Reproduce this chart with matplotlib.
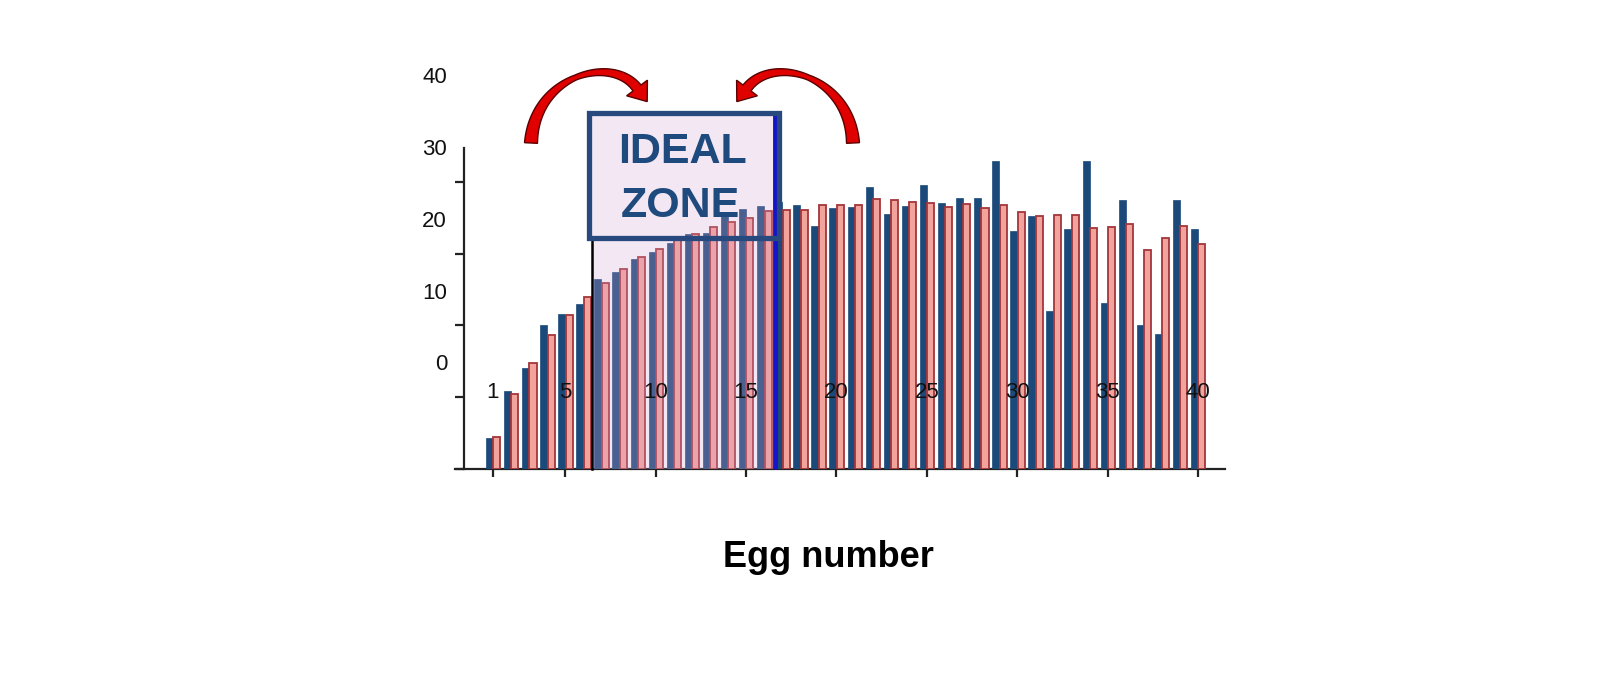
import matplotlib
matplotlib.use("Agg")
import matplotlib.pyplot as plt
from matplotlib.patches import Rectangle, Polygon
import numpy as np

plt.rcParams['font.family'] = ['Liberation Sans', 'DejaVu Sans']

eggs = list(range(1, 41))
series_a = [4.3, 10.8, 14.0, 20.0, 21.6, 23.0, 26.5, 27.4, 29.2, 30.2,
            31.5, 32.7, 32.9, 35.5, 36.2, 36.6, 37.2, 36.7, 33.9, 36.4,
            36.5, 39.2, 35.5, 36.6, 39.6, 37.0, 37.8, 37.8, 42.9, 33.1,
            35.2, 22.0, 33.4, 42.9, 23.1, 37.5, 20.0, 18.8, 37.5, 33.4]
series_b = [4.45, 10.45, 14.8, 18.7, 21.4, 23.9, 25.9, 27.8, 29.5, 30.6,
            31.9, 32.7, 33.7, 34.4, 35.0, 35.9, 36.1, 36.1, 36.7, 36.8,
            36.7, 37.6, 37.5, 37.2, 37.1, 36.5, 36.9, 36.3, 36.7, 35.8,
            35.2, 35.4, 35.4, 33.5, 33.7, 34.1, 30.5, 32.2, 33.8, 31.3]
x_ticks = [1, 5, 10, 15, 20, 25, 30, 35, 40]
y_ticks = [0, 10, 20, 30, 40]
y_tick_labels = ["0", "10", "20", "30", "40"]
x_label = "Egg number"
zone_lines = ["IDEAL", "ZONE"]

W, H = 1600, 695
fig = plt.figure(figsize=(16, 6.95), dpi=100)
fig.patch.set_facecolor('white')

def px(x, y):
    return (x / W, 1 - y / H)

ax = fig.add_axes([455 / W, (H - 469) / H, (1225 - 455) / W, (469 - 148) / H])
ax.set_xlim(-1.10, 41.49)
ax.set_ylim(0, 44.7)
ax.set_facecolor('none')

xs = np.array(eggs, dtype=float)
bw = 0.39
ax.bar(xs - bw / 2, series_a, width=bw, color='#1B4A7A', edgecolor='#1B4A7A',
       linewidth=0.5, zorder=3)
ax.bar(xs + bw / 2 + 0.02, series_b, width=bw, color='#F2A39C', edgecolor='#A3363A',
       linewidth=1.3, zorder=3)

for s in ['top', 'right']:
    ax.spines[s].set_visible(False)
ax.spines['left'].set_position(('data', -0.60))
for s in ['left', 'bottom']:
    ax.spines[s].set_color('#222222')
    ax.spines[s].set_linewidth(1.6)
ax.set_xticks(x_ticks)
ax.set_xticklabels([])
ax.set_yticks(y_ticks)
ax.set_yticklabels([])
ax.tick_params(axis='x', direction='out', length=6, width=1.6, color='#222222')
ax.tick_params(axis='y', direction='out', length=6.5, width=1.6, color='#222222')

for v, lab in zip(y_ticks, y_tick_labels):
    ax.text(-1.54, v + 14.5, lab, ha='right', va='center', fontsize=16,
            color='#111111', clip_on=False, zorder=6)
for v in x_ticks:
    ax.text(v, 10.7, str(v), ha='center', va='center', fontsize=16,
            color='#111111', clip_on=False, zorder=6)

# ideal zone
zone_l, zone_r = 6.48, 16.71
box_l, box_r = 6.20, 16.93
box_b, box_t = 31.9, 49.9
overlay = (215 / 255, 163 / 255, 215 / 255)
ax.add_patch(Rectangle((zone_l, 0), zone_r - zone_l, box_b, facecolor=overlay,
                       alpha=0.25, edgecolor='none', zorder=4, clip_on=False))
ax.add_patch(Rectangle((box_l, box_b), box_r - box_l, box_t - box_b, facecolor=overlay,
                       alpha=0.25, edgecolor='none', zorder=4, clip_on=False))
ax.plot([zone_l, zone_l], [0, box_b], color='black', lw=1.8, zorder=5, clip_on=False)
ax.plot([16.6, 16.6], [0, box_t - 0.5], color='#1414C8', lw=3.5, zorder=5,
        clip_on=False, solid_capstyle='butt')
ax.add_patch(Rectangle((box_l + 0.13, box_b + 0.3), box_r - box_l - 0.26, box_t - box_b - 0.6,
                       facecolor='none', edgecolor='#27497E', linewidth=3.8, zorder=6,
                       clip_on=False))
fig.text(*px(682.5, 163), zone_lines[0], ha='center', va='baseline', fontsize=31,
         fontweight='bold', color='#1F4A7E', zorder=7)
fig.text(*px(680, 217), zone_lines[1], ha='center', va='baseline', fontsize=31,
         fontweight='bold', color='#1F4A7E', zorder=7)

# curved red arrows drawn as tapered polygons (pixel coords, y down)
def curved_arrow(p0, d0, p3, d3, k1, k2, widths, head_w, head_l):
    p0 = np.array(p0, float); p3 = np.array(p3, float)
    d0 = np.array(d0, float); d0 /= np.linalg.norm(d0)
    d3 = np.array(d3, float); d3 /= np.linalg.norm(d3)
    p1 = p0 + k1 * d0
    p2 = p3 - k2 * d3
    t = np.linspace(0, 1, 80)[:, None]
    pts = (1 - t) ** 3 * p0 + 3 * (1 - t) ** 2 * t * p1 + 3 * (1 - t) * t ** 2 * p2 + t ** 3 * p3
    der = 3 * (1 - t) ** 2 * (p1 - p0) + 6 * (1 - t) * t * (p2 - p1) + 3 * t ** 2 * (p3 - p2)
    der /= np.linalg.norm(der, axis=1)[:, None]
    nrm = np.stack([-der[:, 1], der[:, 0]], axis=1)
    tt = t[:, 0]
    w = np.interp(tt, [0, 0.5, 1], widths)[:, None]
    left = pts + nrm * w / 2
    right = pts - nrm * w / 2
    n_end = nrm[-1]
    tip = p3 + d3 * head_l
    hb1 = p3 + n_end * head_w / 2
    hb2 = p3 - n_end * head_w / 2
    poly = np.vstack([left, hb1, tip, hb2, right[::-1]])
    fpts = np.array([px(x, y) for x, y in poly])
    fig.patches.append(Polygon(fpts, closed=True, transform=fig.transFigure,
                               facecolor='#E00000', edgecolor='#5A0000',
                               linewidth=1.0, zorder=8))

curved_arrow((531, 143), (0.05, -1), (637, 88), (0.6, 0.8), 68, 42,
             [13, 5, 10], 26, 17)
curved_arrow((853, 143), (-0.05, -1), (747, 88), (-0.6, 0.8), 68, 42,
             [13, 5, 10], 26, 17)

fig.text(828 / W, 1 - 567 / H, x_label, ha='center', va='baseline', fontsize=26,
         fontweight='bold', color='black')

fig.savefig('out.png', dpi=100, facecolor='white')
